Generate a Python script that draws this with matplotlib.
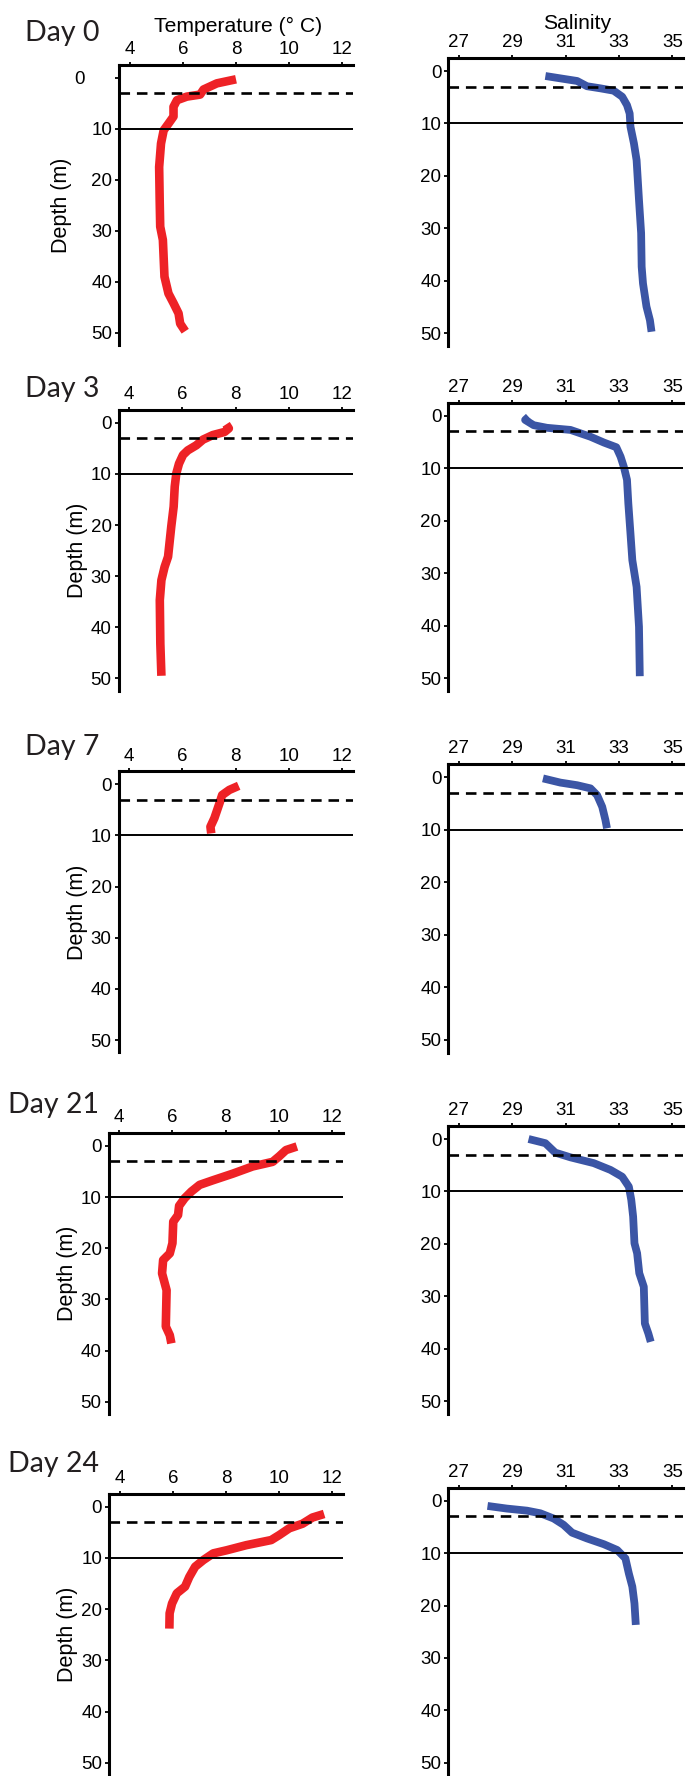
import matplotlib.pyplot as plt
from matplotlib import transforms

plt.rcParams['font.family'] = ['Liberation Sans', 'DejaVu Sans']

days = ["Day 0", "Day 3", "Day 7", "Day 21", "Day 24"]

# temperature profiles (deg C) with depth (m)
t0_depth = [0.3, 1.1, 2.3, 3.3, 3.7, 4.4, 5.7, 7.6, 9.0, 10.3, 12.9, 17.5, 24.0, 29.2, 31.8, 39.0, 42.3, 44.2, 46.2, 48.2, 49.7]
t0_temp = [8.0, 7.28, 6.78, 6.65, 6.15, 5.78, 5.65, 5.65, 5.46, 5.28, 5.18, 5.11, 5.13, 5.15, 5.25, 5.31, 5.46, 5.65, 5.84, 5.9, 6.09]

t3_depth = [0.3, 1.1, 1.8, 2.4, 3.3, 4.4, 5.4, 6.3, 8.0, 9.9, 12.5, 16.4, 20.3, 26.2, 28.2, 30.8, 34.7, 43.2, 49.5]
t3_temp = [7.64, 7.74, 7.58, 7.14, 6.77, 6.52, 6.2, 6.02, 5.87, 5.77, 5.71, 5.67, 5.58, 5.46, 5.33, 5.21, 5.15, 5.17, 5.21]

t7_depth = [0.3, 1.1, 2.1, 3.7, 6.6, 8.3, 9.6]
t7_temp = [8.11, 7.76, 7.49, 7.39, 7.2, 7.05, 7.08]

t21_depth = [0.1, 0.8, 2.0, 3.1, 4.0, 5.4, 6.7, 7.6, 8.9, 10.2, 11.7, 13.5, 14.8, 19.0, 21.0, 22.3, 24.9, 28.2, 35.3, 37.0, 38.6]
t21_temp = [10.67, 10.26, 10.01, 9.76, 9.01, 8.27, 7.52, 7.02, 6.71, 6.46, 6.25, 6.21, 6.03, 6.0, 5.9, 5.65, 5.61, 5.78, 5.75, 5.9, 5.96]

t24_depth = [1.4, 2.1, 3.3, 4.2, 5.5, 6.5, 7.5, 8.5, 9.1, 10.4, 11.7, 13.7, 15.6, 16.9, 18.9, 20.8, 23.8]
t24_temp = [11.69, 11.25, 10.88, 10.38, 10.01, 9.7, 8.76, 8.02, 7.52, 7.15, 6.84, 6.62, 6.46, 6.15, 5.97, 5.88, 5.87]

# salinity profiles with depth (m)
s0_depth = [0.95, 1.4, 1.9, 2.9, 3.3, 3.75, 4.9, 6.5, 8.1, 10.6, 13.8, 17.0, 24.6, 30.9, 37.3, 40.5, 44.9, 47.5, 49.7]
s0_sal = [30.24, 30.8, 31.43, 31.8, 32.3, 32.8, 33.12, 33.3, 33.4, 33.43, 33.56, 33.66, 33.75, 33.83, 33.85, 33.9, 34.03, 34.16, 34.22]

s3_depth = [0.2, 0.8, 1.8, 2.3, 2.7, 4.0, 5.1, 6.0, 7.8, 9.7, 12.2, 16.7, 22.4, 27.5, 32.6, 40.2, 49.6]
s3_sal = [29.61, 29.48, 29.8, 30.3, 31.18, 31.93, 32.43, 32.9, 33.06, 33.18, 33.3, 33.35, 33.43, 33.5, 33.66, 33.75, 33.78]

s7_depth = [0.2, 1.0, 1.5, 2.1, 3.4, 5.6, 8.1, 9.7]
s7_sal = [30.15, 30.8, 31.43, 31.93, 32.18, 32.37, 32.49, 32.55]

s21_depth = [0.0, 0.8, 2.6, 3.5, 4.6, 5.9, 7.2, 9.1, 11.6, 14.8, 19.9, 21.8, 25.6, 28.2, 35.2, 37.1, 38.7]
s21_sal = [29.61, 30.24, 30.61, 31.18, 32.05, 32.68, 33.12, 33.37, 33.46, 33.53, 33.58, 33.68, 33.76, 33.93, 33.97, 34.1, 34.19]

s24_depth = [1.0, 1.5, 1.9, 2.4, 3.4, 4.6, 6.1, 7.2, 8.3, 9.4, 11.0, 13.9, 16.4, 19.6, 23.7]
s24_sal = [28.07, 28.79, 29.55, 30.05, 30.55, 30.92, 31.24, 31.8, 32.43, 32.93, 33.24, 33.37, 33.5, 33.58, 33.63]

dashed_depth = 3
solid_depth = 10

depth_ticks = [0, 10, 20, 30, 40, 50]
temp_ticks = [4, 6, 8, 10, 12]
sal_ticks = [27, 29, 31, 33, 35]

temp_profiles = [(t0_temp, t0_depth), (t3_temp, t3_depth), (t7_temp, t7_depth),
                 (t21_temp, t21_depth), (t24_temp, t24_depth)]
sal_profiles = [(s0_sal, s0_depth), (s3_sal, s3_depth), (s7_sal, s7_depth),
                (s21_sal, s21_depth), (s24_sal, s24_depth)]

W, H = 686, 1776
fig = plt.figure(figsize=(W / 100, H / 100), dpi=100)

# panel boxes in pixels: left, top, right, bottom
temp_boxes = [(119, 65, 353, 345), (118.5, 410, 353, 690.6), (118.5, 771.5, 353, 1052.3),
              (108.5, 1133.2, 343, 1414), (109, 1494, 343, 1775)]
sal_boxes = [(448.3, 57.9, 683, 345.9), (448.3, 402.6, 683, 690.9), (448.3, 764.2, 683, 1052.6),
             (448.3, 1125.9, 683, 1413.6), (448.3, 1487.6, 683, 1775.3)]
day_pos = [(25, 40.7), (25, 396.7), (25, 755), (8, 1113), (8, 1471.7)]


def make_axes(box):
    l, t, r, b = box
    return fig.add_axes([l / W, 1 - b / H, (r - l) / W, (b - t) / H])


def style(ax, xlim, xticks):
    ax.set_xlim(*xlim)
    ax.set_ylim(52.4, -2.5)
    ax.set_xticks(xticks)
    ax.set_yticks(depth_ticks)
    ax.xaxis.tick_top()
    for s in ["right", "bottom"]:
        ax.spines[s].set_visible(False)
    for s in ["left", "top"]:
        ax.spines[s].set_linewidth(2.2)
    ax.tick_params(axis="x", direction="out", length=2.5, width=1.3, pad=2.5, labelsize=13.5)
    ax.tick_params(axis="y", direction="out", length=3, width=1.3, pad=2, labelsize=13.5)
    ax.axhline(dashed_depth, color="black", lw=1.9, ls=(0, (4, 2.6)), zorder=3)
    ax.axhline(solid_depth, color="black", lw=1.4, zorder=3)


for i in range(5):
    ax = make_axes(temp_boxes[i])
    x, z = temp_profiles[i]
    ax.plot(x, z, color="#ee2226", lw=6.2, solid_capstyle="butt", zorder=2)
    style(ax, (3.6, 12.4), temp_ticks)
    ax.set_ylabel("Depth (m)", fontsize=15.5, labelpad=2)
    if i == 0:
        # surface label sits further out on the first panel
        lab = ax.yaxis.get_major_ticks()[0].label1
        lab.set_transform(lab.get_transform() + transforms.ScaledTranslation(-0.27, 0, fig.dpi_scale_trans))

    ax2 = make_axes(sal_boxes[i])
    x, z = sal_profiles[i]
    ax2.plot(x, z, color="#3b55a5", lw=5.6, solid_capstyle="butt", zorder=2)
    style(ax2, (26.6, 35.4), sal_ticks)

    dx, dy = day_pos[i]
    fig.text(dx / W, 1 - dy / H, days[i], fontsize=20.5, family=["Lato", "DejaVu Sans"],
             ha="left", va="baseline", color="#231f20")

fig.text(238 / W, 1 - 31.7 / H, "Temperature (° C)", fontsize=15.2, ha="center", va="baseline")
fig.text(577 / W, 1 - 29 / H, "Salinity", fontsize=15.2, ha="center", va="baseline")

fig.savefig("out.png", dpi=100)
